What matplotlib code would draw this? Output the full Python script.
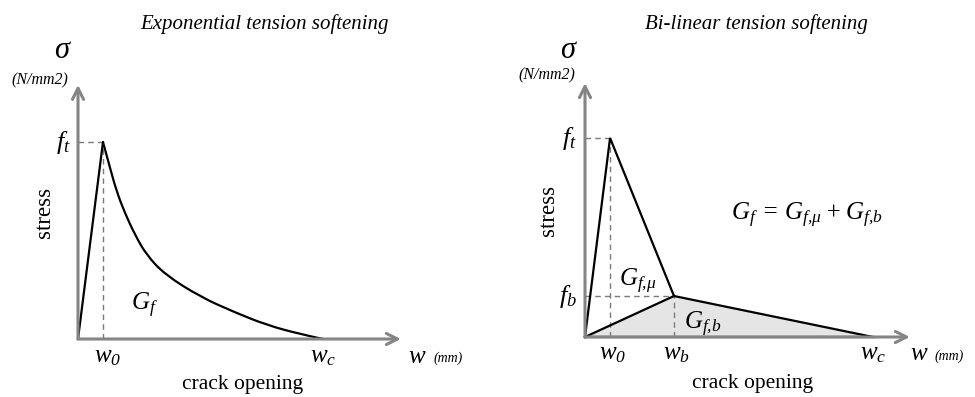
import matplotlib
matplotlib.use("Agg")
import matplotlib.pyplot as plt
from matplotlib.path import Path
from matplotlib.patches import PathPatch

plt.rcParams['font.family'] = ['Liberation Serif', 'DejaVu Serif']
plt.rcParams['mathtext.fontset'] = 'custom'
plt.rcParams['mathtext.rm'] = 'Liberation Serif:italic'
plt.rcParams['mathtext.it'] = 'Liberation Serif:italic'
plt.rcParams['mathtext.bf'] = 'Liberation Serif:bold'
plt.rcParams['mathtext.default'] = 'it'

# --- left panel: exponential softening (w relative to wc, sigma relative to ft)
exp_w0 = 0.102
exp_wc = 1.0
exp_ft = 1.0
exp_curve_w = [0.102, 0.131, 0.158, 0.192, 0.233, 0.280, 0.355, 0.498, 0.633, 0.770, 0.906, 1.0]
exp_curve_s = [1.0, 0.867, 0.748, 0.638, 0.528, 0.426, 0.327, 0.215, 0.139, 0.071, 0.025, 0.0]

# --- right panel: bi-linear softening
bl_w0 = 0.087
bl_wb = 0.309
bl_wc = 1.0
bl_ft = 1.0
bl_fb = 0.206

AX_GRAY = '#858585'
DASH_GRAY = '#7a7a7a'

fig = plt.figure(figsize=(9.75, 3.97), dpi=100)

# pixel layout: left origin (78,339) scale 245x197, right origin (585,337) scale 288x199
axL = fig.add_axes([0, 0, 487 / 975, 1])
axL.set_xlim((0 - 78) / 245, (487 - 78) / 245)
axL.set_ylim((339 - 397) / 197, 339 / 197)
axR = fig.add_axes([487 / 975, 0, 488 / 975, 1])
axR.set_xlim((487 - 585) / 288, (975 - 585) / 288)
axR.set_ylim((337 - 397) / 199, 337 / 199)
for ax in (axL, axR):
    ax.axis('off')


def draw_axes(ax, xend, yend):
    kw = dict(arrowstyle='->', color=AX_GRAY, lw=2.2, mutation_scale=20,
              shrinkA=0, shrinkB=0)
    ax.annotate('', xy=(xend, 0), xytext=(0, 0), arrowprops=kw)
    ax.annotate('', xy=(0, yend), xytext=(0, 0), arrowprops=kw)


def smooth_path(xs, ys):
    # quadratic bezier chain, read points used as control points
    pts = list(zip(xs, ys))
    verts = [pts[0]]
    codes = [Path.MOVETO]
    for i in range(1, len(pts) - 2):
        mid = ((pts[i][0] + pts[i + 1][0]) / 2, (pts[i][1] + pts[i + 1][1]) / 2)
        verts += [pts[i], mid]
        codes += [Path.CURVE3, Path.CURVE3]
    verts += [pts[-2], pts[-1]]
    codes += [Path.CURVE3, Path.CURVE3]
    return Path(verts, codes)


# ---------------- left ----------------
draw_axes(axL, 1.318, 1.29)
axL.plot([0, exp_w0], [exp_ft, exp_ft], color=DASH_GRAY, lw=1, ls=(0, (4, 3)))
axL.plot([exp_w0, exp_w0], [0, exp_ft], color=DASH_GRAY, lw=1, ls=(0, (4, 3)))
axL.plot([0, exp_curve_w[0]], [0, exp_curve_s[0]], color='black', lw=1.6,
         solid_capstyle='round')
axL.add_patch(PathPatch(smooth_path(exp_curve_w, exp_curve_s), fill=False,
                        edgecolor='black', lw=1.6, capstyle='round'))

axL.text(0.763, 1.60, 'Exponential tension softening', style='italic',
         fontsize=15, ha='center', va='center')
axL.text(-0.065, 1.467, 'σ', style='italic', fontsize=22, ha='center', va='center')
axL.text(-0.155, 1.315, '(N/mm2)', style='italic', fontsize=11.5, ha='center', va='center')
axL.text(-0.03, exp_ft, r'$f_t$', fontsize=19, ha='right', va='center')
axL.text(-0.135, 0.64, 'stress', fontsize=16.5, rotation=90, ha='center', va='center')
axL.text(0.273, 0.17, r'$G_f$', fontsize=18, ha='center', va='center')
axL.text(exp_w0 + 0.02, -0.09, r'$w_0$', fontsize=18, ha='center', va='center')
axL.text(exp_wc, -0.09, r'$w_c$', fontsize=18, ha='center', va='center')
axL.text(1.385, -0.09, r'$w$', fontsize=18, ha='center', va='center')
axL.text(1.51, -0.10, '(mm)', style='italic', fontsize=10, ha='center', va='center')
axL.text(0.673, -0.232, 'crack opening', fontsize=15.5, ha='center', va='center')

# ---------------- right ----------------
axR.fill([0, bl_wb, bl_wc], [0, bl_fb, 0], color='#e5e5e5', lw=0)
draw_axes(axR, 1.128, 1.276)
axR.plot([0, bl_w0], [bl_ft, bl_ft], color=DASH_GRAY, lw=1, ls=(0, (4, 3)))
axR.plot([bl_w0, bl_w0], [0, bl_ft], color=DASH_GRAY, lw=1, ls=(0, (4, 3)))
axR.plot([0, bl_wb], [bl_fb, bl_fb], color=DASH_GRAY, lw=1, ls=(0, (4, 3)))
axR.plot([bl_wb, bl_wb], [0, bl_fb], color=DASH_GRAY, lw=1, ls=(0, (4, 3)))
axR.plot([0, bl_w0, bl_wb, bl_wc], [0, bl_ft, bl_fb, 0], color='black', lw=1.6,
         solid_joinstyle='miter')
axR.plot([0, bl_wb], [0, bl_fb], color='black', lw=1.6)
axR.plot([0, bl_wc], [0, 0], color='black', lw=1.6)

axR.text(0.597, 1.575, 'Bi-linear tension softening', style='italic',
         fontsize=15, ha='center', va='center')
axR.text(-0.059, 1.442, 'σ', style='italic', fontsize=22, ha='center', va='center')
axR.text(-0.132, 1.317, '(N/mm2)', style='italic', fontsize=11.5, ha='center', va='center')
axR.text(-0.028, bl_ft, r'$f_t$', fontsize=19, ha='right', va='center')
axR.text(-0.028, bl_fb, r'$f_b$', fontsize=19, ha='right', va='center')
axR.text(-0.128, 0.635, 'stress', fontsize=16.5, rotation=90, ha='center', va='center')
axR.text(0.184, 0.28, r'$G_{f{,}\mu}$', fontsize=18, ha='center', va='center')
axR.text(0.41, 0.065, r'$G_{f{,}b}$', fontsize=18, ha='center', va='center')
axR.text(0.771, 0.613, r'$G_f\,=\,G_{f{,}\mu}+G_{f{,}b}$', fontsize=18, ha='center', va='center')
axR.text(bl_w0 + 0.01, -0.085, r'$w_0$', fontsize=18, ha='center', va='center')
axR.text(bl_wb + 0.007, -0.085, r'$w_b$', fontsize=18, ha='center', va='center')
axR.text(bl_wc, -0.085, r'$w_c$', fontsize=18, ha='center', va='center')
axR.text(1.16, -0.085, r'$w$', fontsize=18, ha='center', va='center')
axR.text(1.265, -0.095, '(mm)', style='italic', fontsize=10, ha='center', va='center')
axR.text(0.583, -0.232, 'crack opening', fontsize=15.5, ha='center', va='center')

fig.savefig('out.png', dpi=100)
